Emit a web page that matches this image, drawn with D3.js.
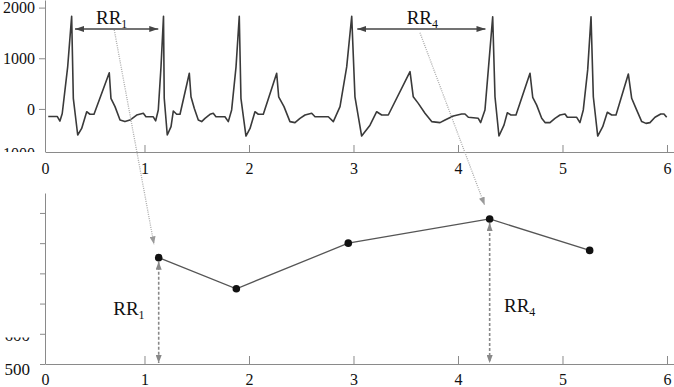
<!DOCTYPE html>
<html>
<head>
<meta charset="utf-8">
<script src="https://cdn.jsdelivr.net/npm/d3@7"></script>
<style>
  body { margin: 0; background: #fff; }
  svg { display: block; font-family: "Liberation Serif", "DejaVu Serif", serif; }
  .axis path, .axis line { stroke: #8a8a8a; }
  .axis text { fill: #111; }
</style>
</head>
<body>
<div id="chart"></div>
<script>
// ECG trace (time in s, amplitude)
const ecgTime = [0.079, 0.166, 0.191, 0.213, 0.265, 0.303, 0.319, 0.361, 0.399, 0.447, 0.478, 0.517,
  0.663, 0.679, 0.718, 0.766, 0.813, 0.861, 0.925, 0.989, 1.014, 1.084, 1.107, 1.132, 1.158, 1.182,
  1.189, 1.218, 1.254, 1.276, 1.308, 1.340, 1.429, 1.445, 1.477, 1.515, 1.547, 1.579, 1.627, 1.658,
  1.684, 1.770, 1.802, 1.834, 1.876, 1.907, 1.923, 1.971, 2.010, 2.057, 2.089, 2.137, 2.265, 2.284,
  2.335, 2.392, 2.440, 2.488, 2.536, 2.600, 2.632, 2.759, 2.807, 2.871, 2.935, 2.983, 3.014, 3.078,
  3.158, 3.222, 3.270, 3.333, 3.541, 3.572, 3.620, 3.684, 3.748, 3.828, 3.876, 3.955, 4.035, 4.067,
  4.099, 4.194, 4.217, 4.258, 4.290, 4.332, 4.354, 4.392, 4.440, 4.472, 4.507, 4.555, 4.689, 4.715,
  4.753, 4.801, 4.833, 4.880, 4.928, 4.976, 5.024, 5.046, 5.136, 5.167, 5.199, 5.241, 5.273, 5.295,
  5.337, 5.385, 5.429, 5.471, 5.512, 5.630, 5.662, 5.703, 5.758, 5.799, 5.837, 5.885, 5.940, 5.971, 5.997];
const ecgValue = [-150, -150, -240, -90, 830, 1830, 210, -515, -385, -55, -105, -105,
  715, 210, 45, -220, -250, -220, -120, -85, -155, -155, -235, -20, 830, 1830,
  210, -515, -350, -40, -105, -105, 705, 240, 10, -220, -250, -185, -105, -85,
  -155, -155, -250, -20, 830, 1830, 210, -535, -385, -55, -105, -105, 705, 240,
  45, -250, -270, -185, -120, -85, -155, -155, -250, 45, 830, 1830, 240, -535,
  -320, -55, -120, -120, 735, 240, 110, -85, -250, -270, -220, -140, -100, -100,
  -165, -185, -270, -20, 770, 1820, 240, -535, -320, -75, -120, -120, 705, 230,
  75, -185, -270, -270, -185, -120, -100, -165, -165, -270, -20, 770, 1820, 240,
  -535, -350, -65, -120, -120, 690, 210, 10, -250, -285, -270, -165, -100, -100, -165];

// RR series (time of beat in s, interval in ms)
const rrTime = [1.136, 1.879, 2.95, 4.303, 5.26];
const rrValue = [852, 749, 900, 980, 876];

const xTicks = [0, 1, 2, 3, 4, 5, 6];
const ecgTicks = [-1000, 0, 1000, 2000];
const rrTicks = [500, 600, 700, 800, 900, 1000];

const width = 674, height = 387;
const svg = d3.select("#chart").append("svg")
  .attr("width", width).attr("height", height);

const x = d3.scaleLinear().domain([0.048, 6.067]).range([45, 674]);
const yTop = d3.scaleLinear().domain([-850, 2150]).range([152, 0]);
const yBot = d3.scaleLinear().domain([500, 1066]).range([364, 193]);

// markers
const defs = svg.append("defs");
function marker(id, color, len, wid) {
  defs.append("marker")
    .attr("id", id)
    .attr("markerUnits", "userSpaceOnUse")
    .attr("markerWidth", len).attr("markerHeight", wid)
    .attr("refX", len).attr("refY", wid / 2)
    .attr("orient", "auto-start-reverse")
    .append("path")
    .attr("d", `M0,0L${len},${wid / 2}L0,${wid}Z`)
    .attr("fill", color);
}
marker("arrDark", "#444", 9, 6);
marker("arrGray", "#999", 8, 6);
marker("arrDash", "#888", 8, 6);

// parts of two tick labels are hidden in the original figure
defs.append("clipPath").attr("id", "clipTopAxis")
  .append("rect").attr("x", -60).attr("y", -5).attr("width", 80).attr("height", 157);
defs.append("clipPath").attr("id", "clipBotAxis")
  .append("rect").attr("x", -60).attr("y", 337).attr("width", 80).attr("height", 60);

function styleAxis(g, size) {
  g.attr("font-family", "'Liberation Serif', serif").attr("font-size", size);
}

// ---- top panel: ECG
const xAxisTop = svg.append("g").attr("class", "axis")
  .attr("transform", `translate(0,${yTop(-850)})`)
  .call(d3.axisBottom(x).tickValues(xTicks).tickFormat(d3.format("d"))
    .tickSize(-7).tickSizeOuter(0).tickPadding(11))
  .call(styleAxis, 16);

const yAxisTop = svg.append("g").attr("class", "axis")
  .attr("transform", `translate(${x(0.048)},0)`)
  .attr("clip-path", "url(#clipTopAxis)")
  .call(d3.axisLeft(yTop).tickValues(ecgTicks).tickSize(6).tickPadding(4)
    .tickFormat(d => d < 0 ? "\u2212" + Math.abs(d) : d).tickSizeOuter(0))
  .call(styleAxis, 16);
yAxisTop.selectAll(".tick").filter(d => d < 0).select("text").attr("dy", "-0.1em");
yAxisTop.selectAll(".tick").filter(d => d < 0).select("line").remove();

svg.append("path")
  .datum(ecgTime.map((t, i) => [t, ecgValue[i]]))
  .attr("fill", "none")
  .attr("stroke", "#3a3a3a")
  .attr("stroke-width", 1.6)
  .attr("stroke-linejoin", "round")
  .attr("d", d3.line().x(d => x(d[0])).y(d => yTop(d[1])));

// ---- bottom panel: RR tachogram
const xAxisBot = svg.append("g").attr("class", "axis")
  .attr("transform", `translate(0,${yBot(500)})`)
  .call(d3.axisBottom(x).tickValues(xTicks).tickFormat(d3.format("d"))
    .tickSize(-8).tickSizeOuter(0).tickPadding(10))
  .call(styleAxis, 16);

const yAxisBot = svg.append("g").attr("class", "axis")
  .attr("transform", `translate(${x(0.048)},0)`)
  .call(d3.axisLeft(yBot).tickValues(rrTicks).tickSize(5).tickPadding(10)
    .tickFormat(d => d <= 600 ? d : "").tickSizeOuter(0))
  .call(styleAxis, 17);
yAxisBot.selectAll(".tick text").attr("dy", "0.62em");
yAxisBot.selectAll(".tick").filter(d => d === 600).select("text")
  .attr("dy", "0.42em")
  .attr("clip-path", "url(#clipBotAxis)")
  .attr("transform", `translate(0,${-yBot(600)})`)
  .attr("y", yBot(600));

// zero labels sit on the y axis, no tick mark there
[xAxisTop, xAxisBot].forEach(g => {
  const z = g.selectAll(".tick").filter(d => d === 0);
  z.select("line").remove();
  z.select("text").attr("dx", 5);
});

svg.append("path")
  .datum(rrTime.map((t, i) => [t, rrValue[i]]))
  .attr("fill", "none")
  .attr("stroke", "#555")
  .attr("stroke-width", 1.3)
  .attr("d", d3.line().x(d => x(d[0])).y(d => yBot(d[1])));

// vertical dashed RR arrows
const marked = [0, 3];
svg.selectAll("line.rr-drop")
  .data(marked)
  .join("line")
  .attr("class", "rr-drop")
  .attr("x1", i => x(rrTime[i])).attr("x2", i => x(rrTime[i]))
  .attr("y1", i => yBot(rrValue[i]) + 4)
  .attr("y2", yBot(500) - 1)
  .attr("stroke", "#888")
  .attr("stroke-width", 1.6)
  .attr("stroke-dasharray", "3,2")
  .attr("marker-start", "url(#arrDash)")
  .attr("marker-end", "url(#arrDash)");

svg.selectAll("circle.rr-point")
  .data(rrTime.map((t, i) => [t, rrValue[i]]))
  .join("circle")
  .attr("class", "rr-point")
  .attr("cx", d => x(d[0]))
  .attr("cy", d => yBot(d[1]))
  .attr("r", 3.8)
  .attr("fill", "#111");

// horizontal RR arrows in ECG panel
const spans = [
  { label: "1", from: 0.335, to: 1.132, labelAt: 0.536 },
  { label: "4", from: 3.036, to: 4.263, labelAt: 3.509 }
];
svg.selectAll("line.rr-span")
  .data(spans)
  .join("line")
  .attr("class", "rr-span")
  .attr("x1", d => x(d.from)).attr("x2", d => x(d.to))
  .attr("y1", yTop(1578)).attr("y2", yTop(1578))
  .attr("stroke", "#444")
  .attr("stroke-width", 1.4)
  .attr("marker-start", "url(#arrDark)")
  .attr("marker-end", "url(#arrDark)");

// dotted links from ECG panel to tachogram points
const links = [
  { t0: 0.711, v0: 1558, t1: 1.091, v1: 896 },
  { t0: 3.636, v0: 1505, t1: 4.255, v1: 1026 }
];
svg.selectAll("line.rr-link")
  .data(links)
  .join("line")
  .attr("class", "rr-link")
  .attr("x1", d => x(d.t0)).attr("y1", d => yTop(d.v0))
  .attr("x2", d => x(d.t1)).attr("y2", d => yBot(d.v1))
  .attr("stroke", "#aaa")
  .attr("stroke-width", 1.3)
  .attr("stroke-dasharray", "1,1.2")
  .attr("marker-end", "url(#arrGray)");

// labels
function rrLabel(px, py, sub) {
  const t = svg.append("text")
    .attr("x", px).attr("y", py)
    .attr("fill", "#111")
    .style("font-size", "19px")
    .text("RR");
  t.append("tspan").attr("dy", 4).style("font-size", "12px").text(sub);
}
spans.forEach(d => rrLabel(x(d.labelAt), yTop(1676), d.label));
rrLabel(x(0.701), yBot(662), "1");
rrLabel(x(4.44), yBot(672), "4");
</script>
</body>
</html>
